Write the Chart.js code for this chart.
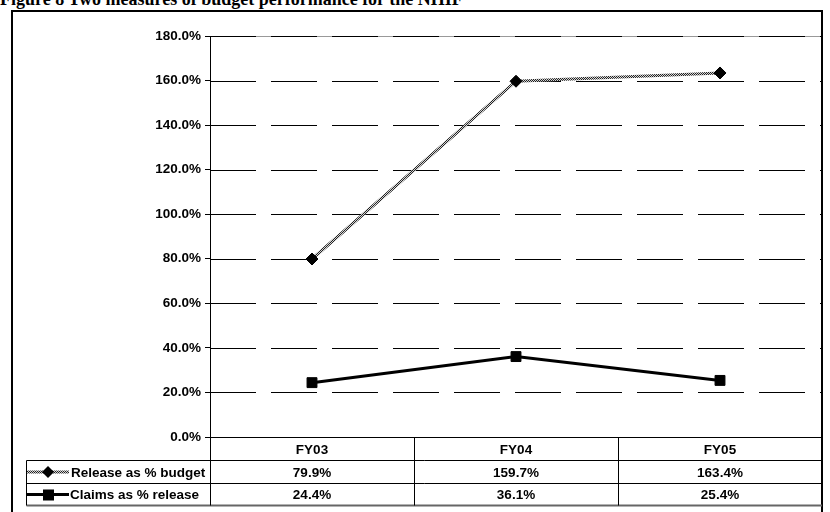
<!DOCTYPE html>
<html>
<head>
<meta charset="utf-8">
<script src="https://cdn.jsdelivr.net/npm/chart.js@4.4.0/dist/chart.umd.min.js"></script>
<style>
  html, body { margin: 0; background: #fff; overflow: hidden }
  #wrap  { position: relative; width: 830px; height: 512px }
  #title { position: absolute; left: 0; top: -10px; white-space: nowrap;
           font: bold 18px 'Liberation Serif', 'Times New Roman', serif; line-height: 18px }
  #c     { position: absolute; left: 0; top: 0 }
</style>
</head>
<body>
<div id="wrap">
  <div id="title">Figure 8 Two measures of budget performance for the NHIF</div>
  <canvas id="c" width="830" height="512"></canvas>
</div>
<script>
const years       = ['FY03', 'FY04', 'FY05']
const releasePct  = [79.9, 159.7, 163.4]
const claimsPct   = [24.4, 36.1, 25.4]
const seriesNames = ['Release as % budget', 'Claims as % release']
const yMax  = 180
const yStep = 20

const FONT = 'Arial, "Liberation Sans", sans-serif'
const TXT  = 13.5

// grey/black checker used for the "release" line
function hatch(ctx) {
  const c = document.createElement('canvas')
  c.width = c.height = 2
  const g = c.getContext('2d')
  g.fillStyle = '#d4d4d4'; g.fillRect(0, 0, 2, 2)
  g.fillStyle = '#222';    g.fillRect(0, 0, 1, 1); g.fillRect(1, 1, 1, 1)
  return ctx.createPattern(c, 'repeat')
}

function diamond(ctx, x, y, r) {
  ctx.beginPath()
  ctx.moveTo(x, y - r); ctx.lineTo(x + r, y); ctx.lineTo(x, y + r); ctx.lineTo(x - r, y)
  ctx.closePath(); ctx.fill()
}

function line(ctx, x1, y1, x2, y2, col, w, dash) {
  ctx.beginPath()
  ctx.setLineDash(dash || [])
  ctx.strokeStyle = col; ctx.lineWidth = w
  ctx.moveTo(x1, y1); ctx.lineTo(x2, y2); ctx.stroke()
  ctx.setLineDash([])
}

const canvas = document.getElementById('c')
const ctx    = canvas.getContext('2d')
const relPattern = hatch(ctx)

// frame round the figure, grey top edge and the long-dash grid
const framePlugin = {
  id: 'frame',
  beforeDatasetsDraw(chart) {
    const { ctx, chartArea: a, scales: { y } } = chart
    ctx.save()
    ctx.strokeStyle = '#000'; ctx.lineWidth = 2
    ctx.strokeRect(12, 11, Math.round(a.right) - 12, 502)
    line(ctx, a.left, a.top + 0.5, a.right, a.top + 0.5, '#999', 1)
    y.ticks.forEach(t => {
      if (t.value === 0) return
      const py = Math.round(y.getPixelForValue(t.value)) + 0.5
      line(ctx, a.left, py, a.right, py, '#000', 1, [46, 15])
    })
    ctx.restore()
  },
}

// data table under the category axis
const tablePlugin = {
  id: 'table',
  afterDraw(chart) {
    const { ctx, chartArea: a, scales: { x } } = chart
    const top = Math.round(a.bottom) + 0.5
    const rows = [top, top + 23, top + 46, top + 68]
    const tabLeft = 26.5
    const edges = [a.left, ...years.slice(1).map((_, i) => x.getPixelForValue(i + 0.5)), a.right].map(v => Math.round(v) + 0.5)

    ctx.save()
    // axis line and right side of plot
    line(ctx, a.left, top, a.right, top, '#000', 1)
    line(ctx, edges[3] - 1, a.top, edges[3] - 1, rows[3], '#000', 1)
    line(ctx, tabLeft, rows[1], a.right, rows[1], '#000', 1)
    line(ctx, tabLeft, rows[2], a.right, rows[2], '#000', 1)
    line(ctx, tabLeft, rows[3], a.right, rows[3], '#666', 2)
    line(ctx, tabLeft, rows[1], tabLeft, rows[3], '#000', 1)
    edges.slice(0, 3).forEach(e => line(ctx, e, top, e, rows[3], '#000', 1))

    ctx.fillStyle = '#000'
    ctx.font = `bold ${TXT}px ${FONT}`
    ctx.textAlign = 'center'; ctx.textBaseline = 'middle'
    years.forEach((y, i) => {
      const cx = x.getPixelForValue(i)
      ctx.fillText(y, cx, (rows[0] + rows[1]) / 2 + 1)
      ctx.fillText(releasePct[i].toFixed(1) + '%', cx, (rows[1] + rows[2]) / 2 + 1)
      ctx.fillText(claimsPct[i].toFixed(1) + '%', cx, (rows[2] + rows[3]) / 2 + 1)
    })

    // legend keys
    const y1 = (rows[1] + rows[2]) / 2, y2 = (rows[2] + rows[3]) / 2
    line(ctx, 27, y1, 69, y1, relPattern, 3)
    diamond(ctx, 48, y1, 6)
    line(ctx, 27, y2, 69, y2, '#000', 3)
    ctx.fillRect(43, y2 - 5, 11, 11)

    ctx.textAlign = 'left'
    ctx.fillText(seriesNames[0], 71, y1 + 1)
    ctx.fillText(seriesNames[1], 70, y2 + 1)
    ctx.restore()
  },
}

new Chart(canvas, {
  type: 'line',
  data: {
    labels: years,
    datasets: [
      {
        label: seriesNames[0], data: releasePct,
        borderColor: relPattern, borderWidth: 3,
        pointStyle: 'rectRot', pointRadius: 6, pointHoverRadius: 6,
        pointBackgroundColor: '#000', pointBorderColor: '#000', pointBorderWidth: 1,
      },
      {
        label: seriesNames[1], data: claimsPct,
        borderColor: '#000', borderWidth: 3,
        pointStyle: 'rect', pointRadius: 7, pointHoverRadius: 7,
        pointBackgroundColor: '#000', pointBorderColor: '#000', pointBorderWidth: 1,
      },
    ],
  },
  options: {
    responsive: false, animation: false,
    layout: { padding: { top: 36, right: 3, bottom: 75, left: 0 } },
    scales: {
      x: {
        type: 'category', offset: true,
        afterFit: s => { s.height = 0 },
        ticks:  { display: false },
        grid:   { display: false },
        border: { display: false },
      },
      y: {
        min: 0, max: yMax,
        afterFit: s => { s.width = 210 },
        ticks: {
          stepSize: yStep, padding: 4, color: '#000',
          font: { family: FONT, weight: 'bold', size: TXT },
          callback: v => v.toFixed(1) + '%',
        },
        grid:   { drawOnChartArea: false, tickLength: 5, tickColor: '#000' },
        border: { color: '#000', width: 1 },
      },
    },
    plugins: { legend: { display: false }, tooltip: { enabled: false } },
  },
  plugins: [framePlugin, tablePlugin],
})
</script>
</body>
</html>
